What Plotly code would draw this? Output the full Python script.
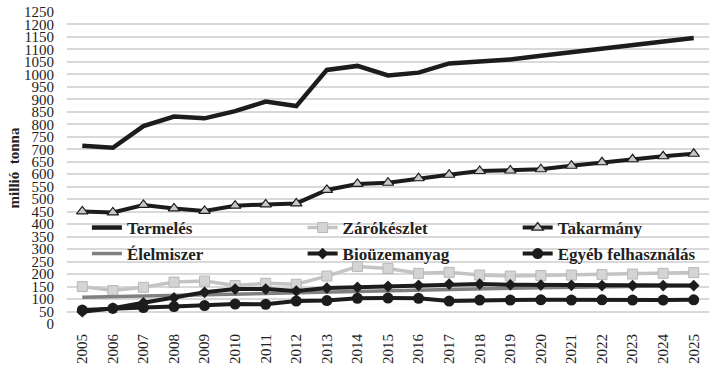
import plotly.graph_objects as go

years = [str(y) for y in range(2005, 2026)]

termeles = [714, 706, 793, 831, 824, 853, 891, 873, 1018, 1034, 996, 1007, 1044, 1051, 1060, 1075, 1090, 1104, 1118, 1133, 1146]
zarokeszlet = [150, 134, 147, 168, 172, 154, 163, 159, 192, 230, 222, 203, 207, 196, 192, 194, 196, 198, 200, 203, 206]
takarmany = [451, 447, 477, 463, 453, 474, 479, 483, 537, 561, 566, 584, 598, 613, 615, 620, 634, 648, 660, 672, 682]
elelmiszer = [107, 109, 111, 113, 116, 119, 122, 125, 128, 131, 134, 136, 139, 141, 143, 145, 147, 149, 151, 152, 154]
biouzemanyag = [49, 63, 85, 105, 127, 140, 140, 132, 144, 147, 151, 155, 160, 160, 157, 156, 155, 154, 154, 154, 154]
egyeb = [56, 63, 66, 70, 74, 80, 79, 92, 94, 103, 104, 103, 92, 96, 96, 97, 96, 97, 96, 96, 97]

y_ticks = list(range(0, 1251, 50))

FONT = "Liberation Serif"

fig = go.Figure()
fig.add_trace(go.Scatter(x=years, y=termeles, name="Termelés", mode="lines",
                         line=dict(color="#1c1c1c", width=4.5), legend="legend"))
fig.add_trace(go.Scatter(x=years, y=zarokeszlet, name="Zárókészlet", mode="lines+markers",
                         line=dict(color="#c4c4c4", width=3.5),
                         marker=dict(symbol="square", size=10, color="#d4d4d4",
                                     line=dict(color="#b8b8b8", width=1)), legend="legend2"))
fig.add_trace(go.Scatter(x=years, y=takarmany, name="Takarmány", mode="lines+markers",
                         line=dict(color="#1c1c1c", width=4),
                         marker=dict(symbol="triangle-up", size=10, color="#c8c8c8",
                                     line=dict(color="#1c1c1c", width=1.2)), legend="legend3"))
fig.add_trace(go.Scatter(x=years, y=elelmiszer, name="Élelmiszer", mode="lines",
                         line=dict(color="#808080", width=3.5), legend="legend4"))
fig.add_trace(go.Scatter(x=years, y=biouzemanyag, name="Bioüzemanyag", mode="lines+markers",
                         line=dict(color="#1c1c1c", width=4),
                         marker=dict(symbol="diamond", size=9, color="#1c1c1c"), legend="legend5"))
fig.add_trace(go.Scatter(x=years, y=egyeb, name="Egyéb felhasználás", mode="lines+markers",
                         line=dict(color="#1c1c1c", width=4),
                         marker=dict(symbol="circle", size=11, color="#1c1c1c"), legend="legend6"))

legend_common = dict(orientation="v", xanchor="left", yanchor="middle",
                     bgcolor="rgba(0,0,0,0)", borderwidth=0,
                     font=dict(family=FONT, size=17, color="#222222", weight="bold"))

col_x = [0.031, 0.367, 0.702]
row_y = [0.3077, 0.2244]

fig.update_layout(
    width=719, height=370,
    margin=dict(l=67, r=10, t=12, b=46, autoexpand=False),
    plot_bgcolor="white", paper_bgcolor="white",
    font=dict(family=FONT, color="#222222", size=15),
    showlegend=True,
    legend=dict(x=col_x[0], y=row_y[0], **legend_common),
    legend2=dict(x=col_x[1], y=row_y[0], **legend_common),
    legend3=dict(x=col_x[2], y=row_y[0], **legend_common),
    legend4=dict(x=col_x[0], y=row_y[1], **legend_common),
    legend5=dict(x=col_x[1], y=row_y[1], **legend_common),
    legend6=dict(x=col_x[2], y=row_y[1], **legend_common),
)
fig.update_xaxes(type="category", range=[-0.5, 20.5], showgrid=False, tickangle=-90, automargin=False,
                 tickfont=dict(family=FONT, size=15, color="#222222"),
                 ticks="", showline=False, zeroline=False, ticklabelstandoff=6)
fig.update_yaxes(range=[0, 1250], tickvals=y_ticks, ticktext=[str(v) for v in y_ticks],
                 showgrid=True, gridcolor="#d9d9d9", gridwidth=1.5, automargin=False,
                 zeroline=False, showline=False, ticks="",
                 tickfont=dict(family=FONT, size=15, color="#222222"),
                 ticklabelstandoff=12,
                 title=dict(text="millió  tonna", standoff=0,
                            font=dict(family=FONT, size=15, color="#222222", weight="bold")))

fig.write_html("out.html", config={"displayModeBar": False},
               post_script="document.body.style.margin='0';")
